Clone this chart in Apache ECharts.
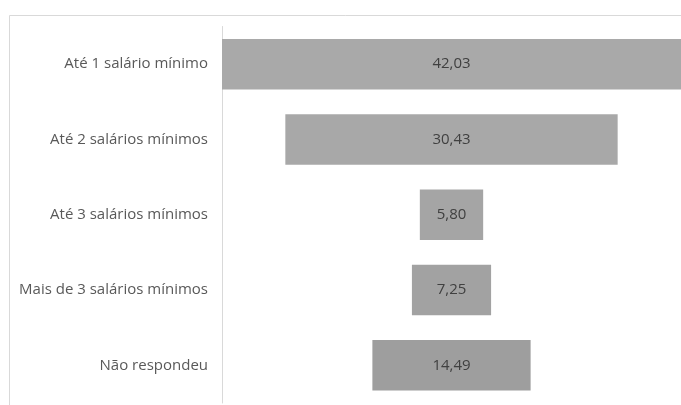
<!DOCTYPE html>
<html><head><meta charset="utf-8">
<style>html,body{margin:0;padding:0;background:#fff}#c{width:681px;height:405px}</style>
<script src="https://cdn.jsdelivr.net/npm/echarts@6/dist/echarts.min.js"></script>
</head><body><div id="c"></div>
<script>
const categories = ['Até 1 salário mínimo','Até 2 salários mínimos','Até 3 salários mínimos','Mais de 3 salários mínimos','Não respondeu'];
const values = [42.03, 30.43, 5.80, 7.25, 14.49];
const barColors = ['#a9a9a9','#a8a8a8','#a5a5a5','#a2a2a2','#9e9e9e'];

const maxV = Math.max(...values);
const offsets = values.map(v => (maxV - v) / 2);

const chart = echarts.init(document.getElementById('c'), null, {renderer:'canvas'});
chart.setOption({
  animation:false,
  backgroundColor:'#fff',
  graphic:[{type:'rect', shape:{x:9.5,y:15.5,width:720,height:420}, style:{fill:'none',stroke:'#d9d9d9',lineWidth:1}, z:-1}],
  grid:{left:222, top:26.5, width:466, height:376.5, containLabel:false},
  xAxis:{type:'value', min:0, max:maxV, show:false},
  yAxis:{type:'category', inverse:true, data:categories,
    axisLine:{show:true, lineStyle:{color:'#d9d9d9', width:1}},
    axisTick:{show:false},
    axisLabel:{color:'#595959', fontSize:15, fontFamily:'Open Sans', margin:14}
  },
  series:[
    {type:'bar', stack:'s', data:offsets, itemStyle:{color:'transparent'}, barCategoryGap:'33%', silent:true},
    {type:'bar', stack:'s', data:values.map((v,i)=>({value:v, itemStyle:{color:barColors[i]}})),
      barCategoryGap:'33%',
      label:{show:true, position:'inside', color:'#404040', fontSize:15, fontFamily:'Open Sans',
        formatter:p=>p.value.toFixed(2).replace('.',',')}}
  ]
});
</script></body></html>
